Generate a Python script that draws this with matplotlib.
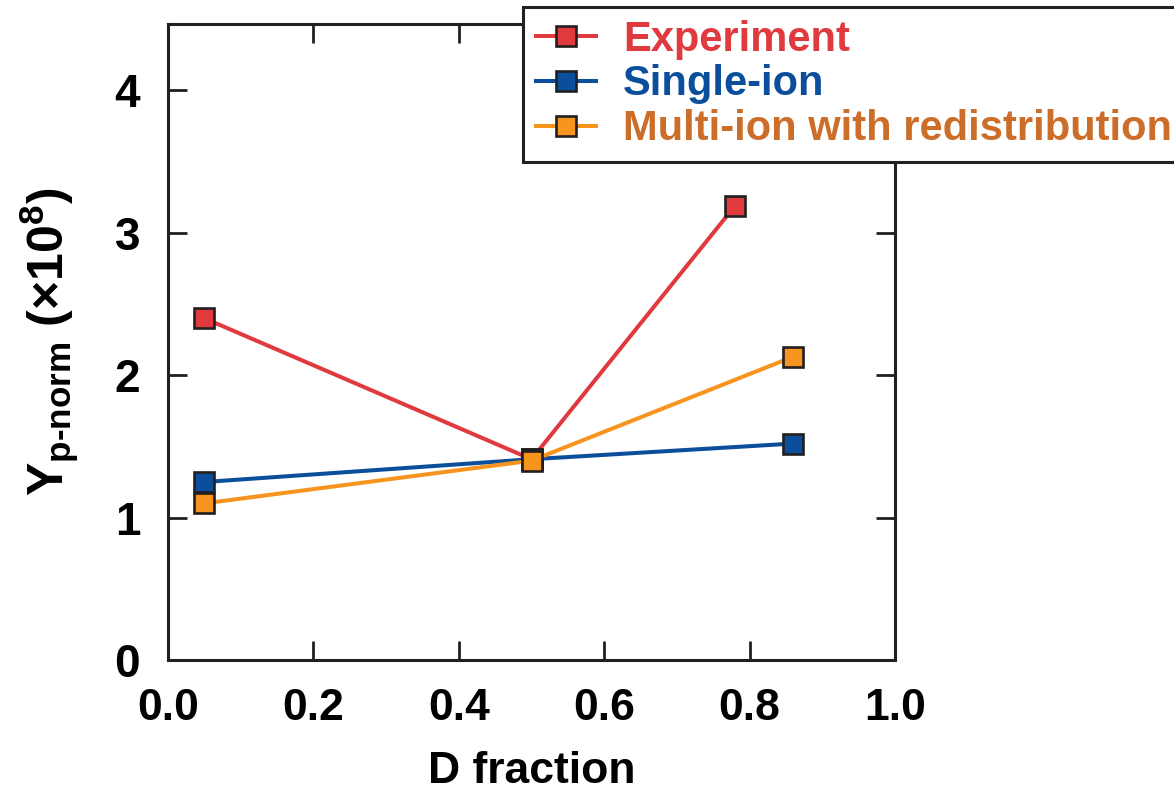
import matplotlib
matplotlib.use("Agg")
import matplotlib.pyplot as plt
from matplotlib import font_manager as fm

names = {f.name for f in fm.fontManager.ttflist}
narrow = "Liberation Sans Narrow" if "Liberation Sans Narrow" in names else "Liberation Sans"

# data
d_exp = [0.05, 0.50, 0.78]
y_exp = [2.40, 1.41, 3.19]
d_single = [0.05, 0.50, 0.86]
y_single = [1.25, 1.41, 1.52]
d_multi = [0.05, 0.50, 0.86]
y_multi = [1.10, 1.40, 2.13]
labels = ["Experiment", "Single-ion", "Multi-ion with redistribution"]
xticks = [0.0, 0.2, 0.4, 0.6, 0.8, 1.0]
yticks = [0, 1, 2, 3, 4]

c_red = "#E03A3E"
c_blue = "#0B4F9C"
c_orange = "#F7941D"
txt_colors = ["#E03A3E", "#0B4F9C", "#CC6D2A"]
spine_c = "#231F20"

plt.rcParams['mathtext.fontset'] = 'custom'
plt.rcParams['mathtext.rm'] = 'Liberation Sans:bold'
plt.rcParams['mathtext.bf'] = 'Liberation Sans:bold'
plt.rcParams['mathtext.it'] = 'Liberation Sans:bold'

fig = plt.figure(figsize=(11.74, 7.95), dpi=100)
ax = fig.add_axes([168/1174, 1-660/795, (895-168)/1174, (660-23.5)/795])

common = dict(marker='s', markersize=15, markeredgecolor=spine_c, markeredgewidth=1.9, linewidth=2.9)
l1, = ax.plot(d_exp, y_exp, color=c_red, markerfacecolor=c_red, label=labels[0], **common)
l2, = ax.plot(d_single, y_single, color=c_blue, markerfacecolor=c_blue, label=labels[1], **common)
l3, = ax.plot(d_multi, y_multi, color=c_orange, markerfacecolor=c_orange, label=labels[2], zorder=3, **common)

ax.set_xlim(0, 1.0)
ax.set_ylim(0, 4.47)
ax.set_xticks(xticks)
ax.set_yticks(yticks)
ax.set_xticklabels([f"{v:.1f}" for v in xticks], fontfamily=narrow, fontweight='bold', fontsize=32)
ax.set_yticklabels([str(v) for v in yticks], fontfamily='Liberation Sans', fontweight='bold', fontsize=33)
ax.tick_params(direction='in', length=14, width=2.0, color=spine_c, top=True, right=True)
ax.tick_params(axis='y', pad=20)
ax.tick_params(axis='x', pad=20)
for s in ax.spines.values():
    s.set_linewidth(2.2)
    s.set_color(spine_c)

ax.set_xlabel("D fraction", fontfamily=narrow, fontweight='bold', fontsize=32, labelpad=16)
ax.set_ylabel(r"$\mathrm{Y_{p\text{-}norm}}$ (×10$^{8}$)", fontfamily='Liberation Sans',
              fontweight='bold', fontsize=36, labelpad=24)

leg = fig.legend(handles=[l1, l2, l3], loc='upper left', bbox_to_anchor=(523/1174, 1-7/795),
                 frameon=True, fancybox=False, framealpha=1, handlelength=1.45, handletextpad=0.65,
                 borderpad=0.3, labelspacing=0.12, borderaxespad=0,
                 prop={'family': 'Liberation Sans', 'weight': 'bold', 'size': 30})
leg.get_frame().set_edgecolor(spine_c)
leg.get_frame().set_linewidth(2.2)
for t, c in zip(leg.get_texts(), txt_colors):
    t.set_color(c)

fig.savefig("out.png", dpi=100)
